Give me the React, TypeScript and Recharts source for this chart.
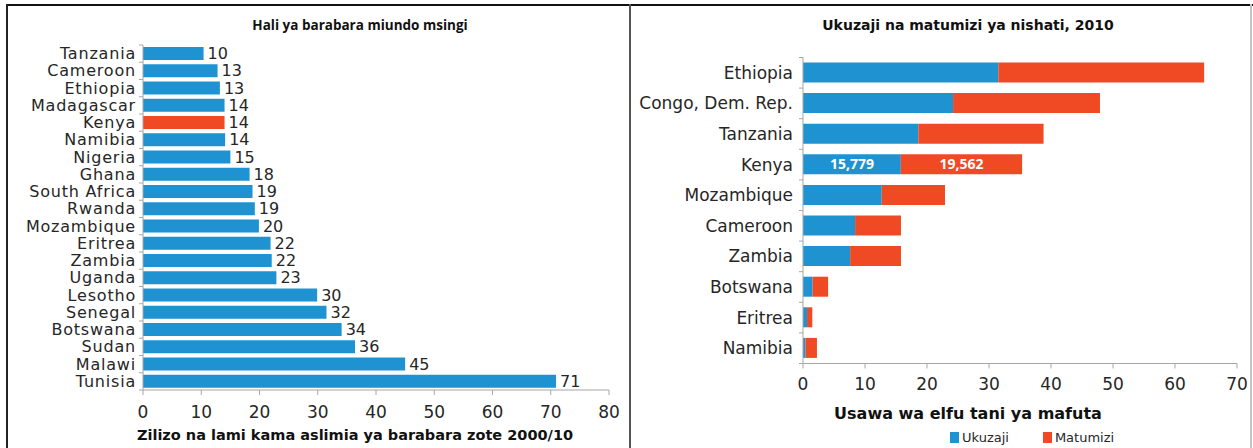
import { BarChart, Bar, XAxis, YAxis, Cell, LabelList } from 'recharts'

// Left panel: paved roads as % of all roads, 2000/10
const ROAD_COUNTRIES = [
    'Tanzania', 'Cameroon', 'Ethiopia', 'Madagascar', 'Kenya', 'Namibia', 'Nigeria', 'Ghana',
    'South Africa', 'Rwanda', 'Mozambique', 'Eritrea', 'Zambia', 'Uganda', 'Lesotho', 'Senegal',
    'Botswana', 'Sudan', 'Malawi', 'Tunisia',
]
const ROAD_VALUES = [10.4, 12.8, 13.2, 14.0, 14.0, 14.1, 15.0, 18.3, 18.8, 19.2, 19.9, 21.9, 22.1, 22.9, 29.9, 31.5, 34.1, 36.4, 45.0, 70.9]
const ROAD_TICKS = [0, 10, 20, 30, 40, 50, 60, 70, 80]
const HIGHLIGHT = 'Kenya'

// Right panel: energy production and consumption, 2010 (thousand tonnes oil equivalent)
const ENERGY_COUNTRIES = ['Ethiopia', 'Congo, Dem. Rep.', 'Tanzania', 'Kenya', 'Mozambique', 'Cameroon', 'Zambia', 'Botswana', 'Eritrea', 'Namibia']
const PRODUCTION = [31.5, 24.2, 18.6, 15.779, 12.7, 8.4, 7.6, 1.55, 0.65, 0.4]
const CONSUMPTION = [33.2, 23.7, 20.2, 19.562, 10.2, 7.4, 8.2, 2.5, 0.85, 1.85]
const ENERGY_TICKS = [0, 10, 20, 30, 40, 50, 60, 70]
const LABELLED = ['Kenya']

const BLUE = '#1f93d1'
const RED = '#ef4a24'
const AXIS = '#a6a6a6'
const FONT = '"DejaVu Sans", sans-serif'

const roadData = ROAD_COUNTRIES.map((name, i) => ({ name, value: ROAD_VALUES[i] }))
const energyData = ENERGY_COUNTRIES.map((name, i) => ({
    name,
    prod: PRODUCTION[i],
    cons: CONSUMPTION[i],
    prodLabel: LABELLED.includes(name) ? PRODUCTION[i] : undefined,
    consLabel: LABELLED.includes(name) ? CONSUMPTION[i] : undefined,
}))

// Excel-style category ticks: marks sit on band boundaries, not on band centres
function makeCategoryTick(band: number, fontSize: number, gap: number, spacing = 0) {
    return function CategoryTick(props: any) {
        const { x, y, payload, index, visibleTicksCount } = props
        return (
            <g>
                <line x1={x - 4} x2={x} y1={y - band / 2} y2={y - band / 2} stroke={AXIS} />
                {index === visibleTicksCount - 1 && (
                    <line x1={x - 4} x2={x} y1={y + band / 2} y2={y + band / 2} stroke={AXIS} />
                )}
                <text
                    x={x - gap}
                    y={y}
                    textAnchor="end"
                    dominantBaseline="central"
                    fontSize={fontSize}
                    fontFamily={FONT}
                    letterSpacing={spacing}
                    fill="#262626"
                >
                    {payload.value}
                </text>
            </g>
        )
    }
}

const fmtThousands = (v: any) => (v == null ? '' : Math.round(v * 1000).toLocaleString('en-US'))

export default function App() {
    return (
        <div style={{ position: 'relative', width: 1253, height: 448, background: '#fff', overflow: 'hidden', fontFamily: FONT }}>
            <style>{`body{margin:0}`}</style>

            {/* panel frames */}
            <div style={{ position: 'absolute', left: 6, top: 4, width: 1247, height: 2, background: '#111' }} />
            <div style={{ position: 'absolute', left: 6, top: 4, width: 2, height: 444, background: '#222' }} />
            <div style={{ position: 'absolute', left: 629, top: 4, width: 2, height: 444, background: '#555' }} />
            <div style={{ position: 'absolute', left: 1250, top: 4, width: 2, height: 444, background: '#c4c4c4' }} />

            {/* Left: roads */}
            <div style={{ position: 'absolute', left: 360, top: 25, transform: 'translate(-50%,-50%)', whiteSpace: 'nowrap', fontFamily: '"Open Sans", sans-serif', fontWeight: 700, fontSize: 13.5, color: '#111' }}>
                Hali ya barabara miundo msingi
            </div>
            <div style={{ position: 'absolute', left: 7, top: 5 }}>
                <BarChart width={622} height={443} data={roadData} layout="vertical" margin={{ top: 40, right: 20, bottom: 0, left: 0 }} barSize={13}>
                    <XAxis
                        type="number"
                        domain={[0, 80]}
                        ticks={ROAD_TICKS}
                        height={58}
                        stroke={AXIS}
                        tickSize={5}
                        tickMargin={11}
                        tick={{ fontSize: 17, fill: '#262626', fontFamily: FONT }}
                    />
                    <YAxis
                        type="category"
                        dataKey="name"
                        width={136}
                        stroke={AXIS}
                        tickLine={false}
                        tickSize={0}
                        tickMargin={0}
                        interval={0}
                        tick={makeCategoryTick(17.26, 16, 7, 0.8)}
                    />
                    <Bar dataKey="value" fill={BLUE} isAnimationActive={false}>
                        {roadData.map((d) => (
                            <Cell key={d.name} fill={d.name === HIGHLIGHT ? RED : BLUE} />
                        ))}
                        <LabelList
                            dataKey="value"
                            position="right"
                            offset={4}
                            formatter={(v: any) => Math.round(v)}
                            style={{ fontSize: 16, fill: '#262626', fontFamily: FONT }}
                        />
                    </Bar>
                </BarChart>
            </div>
            <div style={{ position: 'absolute', left: 355, top: 435, transform: 'translate(-50%,-50%)', whiteSpace: 'nowrap', fontWeight: 700, fontSize: 14.5, color: '#111' }}>
                Zilizo na lami kama aslimia ya barabara zote 2000/10
            </div>

            {/* Right: energy */}
            <div style={{ position: 'absolute', left: 968, top: 25, transform: 'translate(-50%,-50%)', whiteSpace: 'nowrap', fontWeight: 700, fontSize: 14, color: '#111' }}>
                Ukuzaji na matumizi ya nishati, 2010
            </div>
            <div style={{ position: 'absolute', left: 631, top: 5 }}>
                <BarChart width={620} height={443} data={energyData} layout="vertical" margin={{ top: 52.5, right: 14, bottom: 54.5, left: 0 }} barSize={20}>
                    <XAxis
                        type="number"
                        domain={[0, 70]}
                        ticks={ENERGY_TICKS}
                        height={30}
                        stroke={AXIS}
                        tickSize={5}
                        tickMargin={9}
                        tick={{ fontSize: 17, fill: '#262626', fontFamily: FONT }}
                    />
                    <YAxis
                        type="category"
                        dataKey="name"
                        width={172}
                        stroke={AXIS}
                        tickLine={false}
                        tickSize={0}
                        tickMargin={0}
                        interval={0}
                        tick={makeCategoryTick(30.6, 17, 10)}
                    />
                    <Bar dataKey="prod" stackId="e" fill={BLUE} isAnimationActive={false}>
                        <LabelList
                            dataKey="prodLabel"
                            position="center"
                            formatter={fmtThousands}
                            style={{ fontSize: 14, fontWeight: 700, fill: '#fff', fontFamily: '"Open Sans", sans-serif' }}
                        />
                    </Bar>
                    <Bar dataKey="cons" stackId="e" fill={RED} isAnimationActive={false}>
                        <LabelList
                            dataKey="consLabel"
                            position="center"
                            formatter={fmtThousands}
                            style={{ fontSize: 14, fontWeight: 700, fill: '#fff', fontFamily: '"Open Sans", sans-serif' }}
                        />
                    </Bar>
                </BarChart>
            </div>
            <div style={{ position: 'absolute', left: 968, top: 413, transform: 'translate(-50%,-50%)', whiteSpace: 'nowrap', fontWeight: 700, fontSize: 16, color: '#111' }}>
                Usawa wa elfu tani ya mafuta
            </div>

            {/* legend */}
            <div style={{ position: 'absolute', left: 950, top: 430, display: 'flex', alignItems: 'center', fontSize: 13, color: '#262626', whiteSpace: 'nowrap' }}>
                <span style={{ width: 9, height: 11, background: BLUE, display: 'inline-block', marginRight: 3 }} />
                <span style={{ marginRight: 34 }}>Ukuzaji</span>
                <span style={{ width: 9, height: 11, background: RED, display: 'inline-block', marginRight: 3 }} />
                <span>Matumizi</span>
            </div>
        </div>
    )
}
